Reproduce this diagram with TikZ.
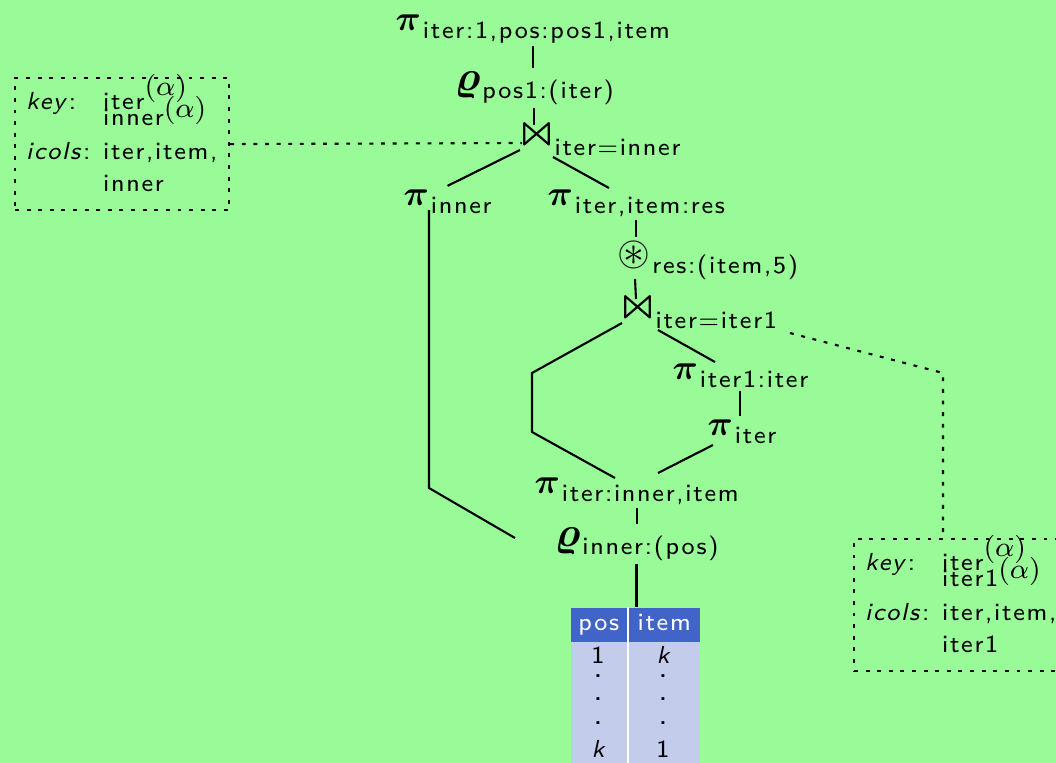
\documentclass[tikz,border=0pt]{standalone}
\usepackage{amsmath,amssymb,latexsym}
\usepackage{fontspec}
\usetikzlibrary{calc}
\newfontfamily\opsf{lmsans8-regular.otf}[LetterSpace=7,ItalicFont=lmsans8-oblique.otf]
\definecolor{mygreen}{RGB}{152,251,152}
\definecolor{myblue}{RGB}{64,100,200}
\definecolor{mylightblue}{RGB}{196,204,236}
\tikzset{
  op/.style={anchor=base west,inner sep=0.6pt,outer sep=0.4pt},
  link/.style={line width=0.6pt},
  dotline/.style={line width=0.6pt,dash pattern=on 1.1pt off 2.2pt},
  keybox/.style={dotline,draw,anchor=north west,inner xsep=0.11cm,inner ysep=0pt,
    minimum height=1.32cm,text width=#1,align=left,font=\fontsize{7}{9.2}\opsf},
  headcell/.style={anchor=north west,fill=myblue,text=white,inner sep=0pt,
    minimum height=0.34cm,text height=4.9pt,text depth=1.75pt,font=\fontsize{7}{8}\opsf},
  cell/.style={anchor=base,inner sep=0pt,font=\fontsize{7}{8}\opsf},
  dots/.style={anchor=base,inner sep=0pt,font=\fontsize{9}{9}\opsf},
}
% operator symbols
\def\pisym{$\boldsymbol{\pi}$}
\def\rhosym{{\fontsize{12.5}{14}\selectfont$\boldsymbol{\varrho}$}}
\def\joinsym{{\fontsize{11}{13}\selectfont$\boldsymbol{\Join}$}}
\def\funsym{{\fontsize{12}{14}\selectfont$\circledast$}}
\def\opsub#1{\raisebox{-2.3pt}{\fontsize{7}{8}\opsf #1}}
\def\oper#1#2{#1\kern0.6pt\opsub{#2}}
\def\alphaup#1{\smash{\raisebox{#1}{\fontsize{8.5}{9}\selectfont$(\alpha)$}}}
\def\keycols#1{%
  \begin{tabular}{@{}p{0.77cm}@{}l@{}}
    \textit{key}: & iter\alphaup{4pt}\\[-4.6pt]
                  & #1\alphaup{2.3pt}\\[0.2pt]
    \textit{icols}: & iter,item,\\
                    & #1
  \end{tabular}}

\begin{document}
\begin{tikzpicture}[x=0.01cm,y=-0.01cm]
  \useasboundingbox (0,0) rectangle (1056,763);
  \fill[mygreen] (0,0) rectangle (1056,763);
  \clip (0,0) rectangle (1056,763);

  % operators of the plan
  \node[op] (topPi)   at (392,30)  {\oper{\pisym}{iter:1,pos:pos1,item}};
  \node[op] (rho1)    at (451,90)  {\oper{\rhosym}{pos1:(iter)}};
  \node[op] (join1)   at (517,147) {\oper{\joinsym}{iter=inner}};
  \node[op] (piInner) at (400,205) {\oper{\pisym}{inner}};
  \node[op] (piRes)   at (544,205) {\oper{\pisym}{iter,item:res}};
  \node[op] (fun)     at (614,265) {\oper{\funsym}{res:(item,5)}};
  \node[op] (join2)   at (618,320) {\oper{\joinsym}{iter=iter1}};
  \node[op] (piIter1) at (669,379) {\oper{\pisym}{iter1:iter}};
  \node[op] (piIter)  at (704,435) {\oper{\pisym}{iter}};
  \node[op] (piII)    at (531,493) {\oper{\pisym}{iter:inner,item}};
  \node[op] (rho2)    at (551,546) {\oper{\rhosym}{inner:(pos)}};

  % input table
  \node[fill=mylightblue,anchor=north west,inner sep=0pt,
    minimum width=1.29cm,minimum height=1.8cm] (tab) at (570,607) {};
  \node[headcell,minimum width=0.56cm] (hPos)  at (570,607) {pos};
  \node[headcell,minimum width=0.71cm] (hItem) at (628,607) {item};
  \draw[white,line width=0.6pt]
    ($(hPos.north east)+(1,0)$) -- ($(hPos.north east |- tab.south)+(1,0)$);
  \node[cell] (p1) at (598,663) {1};
  \node[cell] (i1) at (663,663) {\itshape k};
  \foreach \y [count=\i] in {677,700,724} {
    \node[dots] (pDot\i) at (598,\y) {.};
    \node[dots] (iDot\i) at (663,\y) {.};
  }
  \node[cell] (pk) at (598,757) {\itshape k};
  \node[cell] (ik) at (663,757) {1};

  % plan edges
  \draw[link] (topPi.south) -- (topPi.south |- rho1.north);
  \draw[link] (rho1.south) -- (rho1.south |- join1.north);
  \draw[link] ($(join1.base west)+(3,3)$) -- (piInner.north);
  \draw[link] ($(join1.base west)+(36,10)$) -- ($(piRes.base west)+(65,-17)$);
  \draw[link] (piRes.south) -- (piRes.south |- fun.north);
  \draw[link] ($(fun.base west)+(21,14)$) -- ($(join2.base west)+(18,-21)$);
  \draw[link] ($(join2.base west)+(4,3)$) -- ++(-90,50) -- ++(0,59)
    -- ($(piII.base west)+(84,-15)$);
  \draw[link] ($(join2.base west)+(40,10)$) -- ($(piIter1.base west)+(46,-17)$);
  \draw[link] (piIter1.south) -- (piIter1.south |- piIter.north);
  \draw[link] ($(piIter.base west)+(9,10)$) -- ($(piII.base west)+(127,-20)$);
  \draw[link] ($(piInner.base west)+(29,5)$) -- ++(0,278)
    -- ($(rho2.base west)+(-36,-8)$);
  \draw[link] (piII.south) -- (piII.south |- rho2.north);
  \draw[link] (rho2.south) -- (rho2.south |- tab.north);

  % key / icols annotations
  \node[keybox=1.92cm] (keyL) at (14,77)   {\keycols{inner}};
  \node[keybox=2.0cm]  (keyR) at (853,538) {\keycols{iter1}};
  \coordinate (bendR) at (943,373);
  \draw[dotline] (keyL.east) -- ($(join1.base west)+(5,-4)$);
  \draw[dotline] ($(join2.base west)+(172,13)$) -- (bendR) -- (bendR |- keyR.north);
\end{tikzpicture}
\end{document}
